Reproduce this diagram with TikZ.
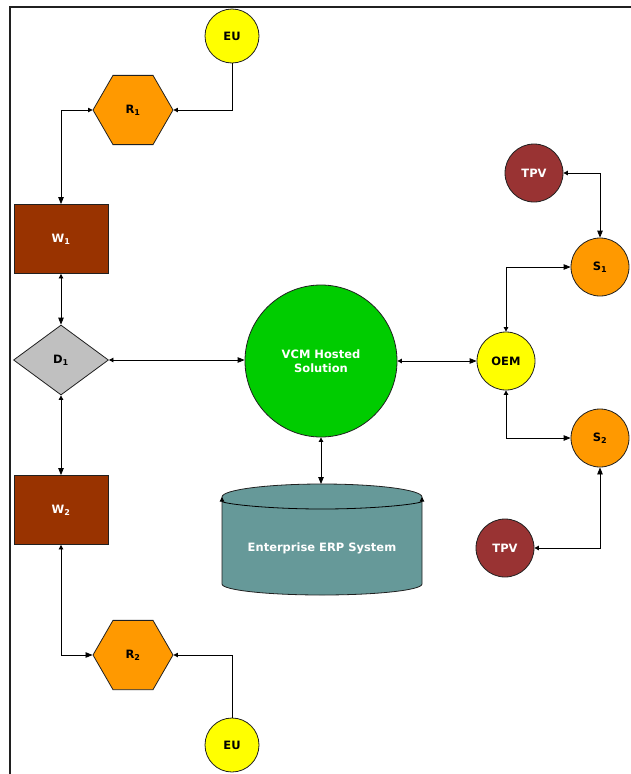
\documentclass[tikz,border=0pt]{standalone}
\usepackage{fontspec}
\setmainfont{DejaVu Sans}
\usetikzlibrary{shapes.geometric,arrows.meta}

\definecolor{euyellow}{HTML}{FFFF00}
\definecolor{retorange}{HTML}{FF9900}
\definecolor{whbrown}{HTML}{993300}
\definecolor{dcgray}{HTML}{C0C0C0}
\definecolor{vcmgreen}{HTML}{00CC00}
\definecolor{erpteal}{HTML}{669999}
\definecolor{tpvred}{HTML}{993333}
\definecolor{edgeink}{HTML}{202020}

\tikzset{
  lbl/.style={font=\bfseries\fontsize{11.5}{14}\selectfont},
  shapeline/.style={draw=edgeink, line width=0.8pt},
  eunode/.style={lbl, shapeline, circle, fill=euyellow, minimum size=54pt, inner sep=0pt},
  hexnode/.style={lbl, shapeline, regular polygon, regular polygon sides=6, fill=retorange, minimum size=80pt, inner sep=0pt},
  whnode/.style={lbl, shapeline, rectangle, fill=whbrown, text=white, minimum width=94pt, minimum height=69pt, inner sep=0pt},
  dcnode/.style={lbl, shapeline, diamond, fill=dcgray, minimum width=95pt, minimum height=70pt, inner sep=0pt},
  vcmnode/.style={lbl, shapeline, circle, fill=vcmgreen, text=white, minimum size=152pt, inner sep=0pt, align=center},
  smallcirc/.style={lbl, shapeline, circle, minimum size=58pt, inner sep=0pt},
  tipsmall/.tip={Triangle[length=4.5pt,width=4.5pt]},
  tipbig/.tip={Triangle[length=7pt,width=5.5pt]},
  link/.style={draw=black, line width=0.8pt, tipsmall-tipbig},
  feed/.style={draw=black, line width=0.8pt, -tipsmall},
}

\begin{document}
\begin{tikzpicture}[x=1pt, y=-1pt]
  \useasboundingbox (0,0) rectangle (631,774);

  % page frame
  \draw[line width=1.4pt, edgeink] (10,774) -- (10,7) -- (631,7);

  % left column: end users, retailers, warehouses, distributor
  \node[eunode] (eu1) at (232,36) {EU};
  \node[hexnode] (r1) at (133,110) {R\textsubscript{1}};
  \node[whnode] (w1) at (61,239) {W\textsubscript{1}};
  \node[dcnode] (d1) at (61,360) {D\textsubscript{1}};
  \node[whnode] (w2) at (61,510) {W\textsubscript{2}};
  \node[hexnode] (r2) at (133,655) {R\textsubscript{2}};
  \node[eunode] (eu2) at (232,745) {EU};

  % hosted solution
  \node[vcmnode] (vcm) at (321,361) {VCM Hosted\\Solution};

  % ERP cylinder
  \fill[erpteal] (222,497) -- (222,584)
     arc[start angle=180, end angle=360, x radius=100pt, y radius=11pt]
     -- (422,497)
     arc[start angle=0, end angle=180, x radius=100pt, y radius=13pt] -- cycle;
  \draw[shapeline] (222,497) -- (222,584)
     arc[start angle=180, end angle=360, x radius=100pt, y radius=11pt]
     -- (422,497)
     arc[start angle=0, end angle=180, x radius=100pt, y radius=13pt];
  \draw[draw=black, line width=0.8pt, tipsmall-tipsmall] (222,497)
     arc[start angle=180, end angle=360, x radius=100pt, y radius=12pt];
  \node[lbl, text=white] (erp) at (322,548) {Enterprise ERP System};
  \coordinate (erptop) at (322,484);

  % right side: OEM, suppliers, third-party vendors
  \node[smallcirc, fill=euyellow] (oem) at (506,361) {OEM};
  \node[smallcirc, fill=retorange] (s1) at (600,267) {S\textsubscript{1}};
  \node[smallcirc, fill=tpvred, text=white] (tpv1) at (534,173) {TPV};
  \node[smallcirc, fill=retorange] (s2) at (600,438) {S\textsubscript{2}};
  \node[smallcirc, fill=tpvred, text=white] (tpv2) at (505,548) {TPV};

  % connectors
  \draw[feed] (eu1.south) |- (r1.east);
  \draw[link] (r1.west) -| (w1.north);
  \draw[link] (w1.south) -- (d1.north);
  \draw[link] (d1.east) -- (d1.east -| vcm.west);
  \draw[link] (d1.south) -- (w2.north);
  \draw[link] (w2.south) |- (r2.west);
  \draw[feed] (eu2.north) |- (r2.east);
  \draw[link] (vcm.east) -- (vcm.east -| oem.west);
  \draw[link] (vcm.south) -- (vcm.south |- erptop);
  \draw[link] (oem.north) |- (s1.west);
  \draw[link] (tpv1.east) -| (s1.north);
  \draw[link] (oem.south) |- (s2.west);
  \draw[link] (tpv2.east) -| (s2.south);
\end{tikzpicture}
\end{document}
